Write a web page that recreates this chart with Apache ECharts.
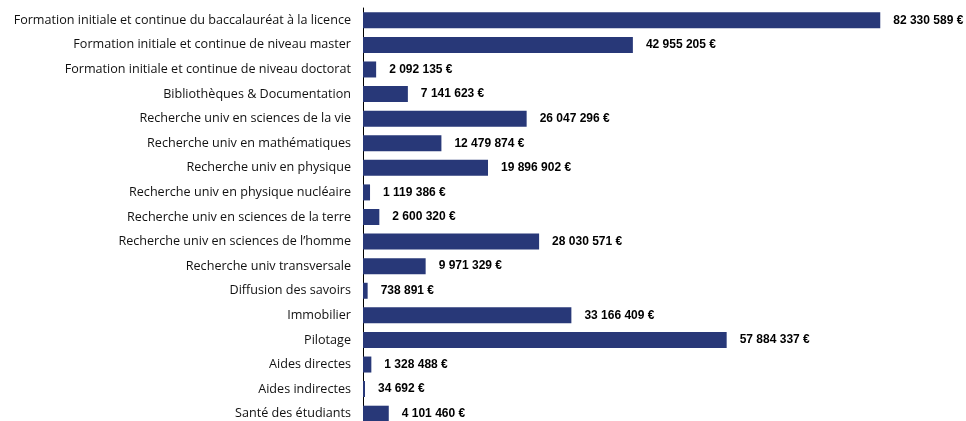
<!DOCTYPE html>
<html>
<head>
<meta charset="utf-8">
<script src="https://cdn.jsdelivr.net/npm/echarts@6/dist/echarts.min.js"></script>
<style>
  html, body { margin: 0; padding: 0; background: #fff; }
  #chartBar { width: 966px; height: 421px; }
</style>
</head>
<body>
<div id="chartBar"></div>
<script>
    // categories, top to bottom
    var categories = [
        'Formation initiale et continue du baccalauréat à la licence',
        'Formation initiale et continue de niveau master',
        'Formation initiale et continue de niveau doctorat',
        'Bibliothèques & Documentation',
        'Recherche univ en sciences de la vie',
        'Recherche univ en mathématiques',
        'Recherche univ en physique',
        'Recherche univ en physique nucléaire',
        'Recherche univ en sciences de la terre',
        'Recherche univ en sciences de l\u2019homme',
        'Recherche univ transversale',
        'Diffusion des savoirs',
        'Immobilier',
        'Pilotage',
        'Aides directes',
        'Aides indirectes',
        'Santé des étudiants'
    ];
    var amounts = [
        82330589, 42955205, 2092135, 7141623, 26047296, 12479874, 19896902,
        1119386, 2600320, 28030571, 9971329, 738891, 33166409, 57884337,
        1328488, 34692, 4101460
    ];

    function euro(v) {
        return String(v).replace(/\B(?=(\d{3})+(?!\d))/g, ' ') + ' €';
    }

    var chartBar = echarts.init(document.getElementById('chartBar'));
    chartBar.setOption({
        animation: false,
        grid: {
            left: 363,
            right: 3,
            top: 8,
            height: 418,
            outerBoundsMode: 'none'
        },
        xAxis: {
            type: 'value',
            min: 0,
            max: 95500000,
            show: false
        },
        yAxis: {
            type: 'category',
            inverse: true,
            data: categories,
            axisLine: { lineStyle: { color: '#000', width: 1 } },
            axisTick: { length: 5, lineStyle: { color: '#000' } },
            axisLabel: {
                margin: 12,
                color: '#111',
                fontFamily: 'Open Sans',
                fontSize: 12.6
            }
        },
        series: [{
            type: 'bar',
            data: amounts,
            barWidth: 16,
            barMinHeight: 2,
            itemStyle: { color: '#283878' },
            label: {
                show: true,
                position: 'right',
                distance: 13,
                fontFamily: 'Liberation Sans',
                fontWeight: 'bold',
                fontSize: 12,
                color: '#000',
                formatter: function (p) { return euro(p.value); }
            }
        }]
    });
</script>
</body>
</html>
